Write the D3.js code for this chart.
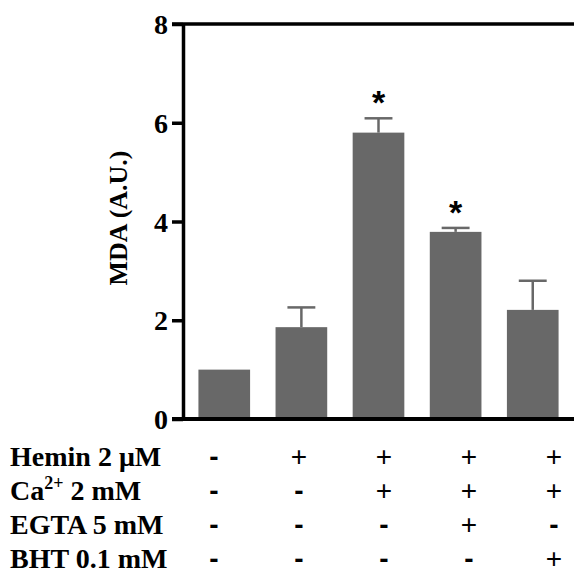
<!DOCTYPE html>
<html>
<head>
<meta charset="utf-8">
<script src="https://cdn.jsdelivr.net/npm/d3@7"></script>
<style>
  body { margin: 0; background: #fff; }
  text.tnr { font-family: "Liberation Serif", "Times New Roman", serif; font-weight: bold; }
</style>
</head>
<body>
<svg id="chart"></svg>
<script>
// bar data
const groups = ['g1', 'g2', 'g3', 'g4', 'g5'];
const means = [1.0, 1.86, 5.80, 3.79, 2.21];
const errors = [0, 0.40, 0.29, 0.08, 0.59];
const signif = [false, false, true, true, false];
const yTicks = [0, 2, 4, 6, 8];

// treatment table
const rowLabels = ['Hemin 2 \u03BCM', 'Ca2+ 2 mM', 'EGTA 5 mM', 'BHT 0.1 mM'];
const hemin = ['-', '+', '+', '+', '+'];
const calcium = ['-', '-', '+', '+', '+'];
const egta = ['-', '-', '-', '+', '-'];
const bht = ['-', '-', '-', '-', '+'];

const width = 574, height = 575;
const margin = {top: 24, right: 0, bottom: 155, left: 183};

const svg = d3.select('#chart').attr('width', width).attr('height', height);
const chart = svg.append('g').attr('transform', `translate(${margin.left}, ${margin.top})`);
const innerW = width - margin.left - margin.right;
const innerH = height - margin.top - margin.bottom - 1;

const xscale = d3.scaleBand()
    .domain(groups)
    .range([0, innerW])
    .paddingInner(0.33)
    .paddingOuter(0.2);

const yscale = d3.scaleLinear()
    .domain([0, 8])
    .range([innerH, 0]);

const barColor = '#686868';

// bars
chart.selectAll('rect.bar')
    .data(groups)
    .enter()
    .append('rect')
    .attr('class', 'bar')
    .attr('x', d => xscale(d))
    .attr('y', (d, i) => yscale(means[i]))
    .attr('width', xscale.bandwidth())
    .attr('height', (d, i) => innerH - yscale(means[i]))
    .style('fill', barColor);

// error bars (upper only)
const capHalf = xscale.bandwidth() * 0.27;
groups.forEach((g, i) => {
    if (errors[i] <= 0) return;
    const cx = xscale(g) + xscale.bandwidth() / 2;
    const top = yscale(means[i] + errors[i]);
    chart.append('line')
        .attr('x1', cx).attr('x2', cx)
        .attr('y1', yscale(means[i])).attr('y2', top)
        .attr('stroke', barColor).attr('stroke-width', 2.5);
    chart.append('line')
        .attr('x1', cx - capHalf).attr('x2', cx + capHalf)
        .attr('y1', top).attr('y2', top)
        .attr('stroke', barColor).attr('stroke-width', 2.5);
    if (signif[i]) {
        chart.append('text')
            .attr('x', cx)
            .attr('y', top - 4)
            .attr('text-anchor', 'middle')
            .style('font-family', '"Liberation Sans", Arial, sans-serif')
            .style('font-weight', 'bold')
            .style('font-size', '34px')
            .text('*');
    }
});

// axes
const yaxis = d3.axisLeft(yscale).tickValues(yTicks).tickSize(11).tickSizeOuter(0).tickPadding(4);
const yg = chart.append('g').call(yaxis);
yg.select('.domain').attr('stroke', '#000').attr('stroke-width', 3.5);
yg.selectAll('.tick line').attr('stroke', '#000').attr('stroke-width', 3.5);
yg.selectAll('.tick text')
    .attr('class', 'tnr')
    .style('font-size', '28px')
    .attr('dy', '0.34em');

// bottom axis line and top frame line
chart.append('line')
    .attr('x1', -11).attr('x2', innerW)
    .attr('y1', yscale(0)).attr('y2', yscale(0))
    .attr('stroke', '#000').attr('stroke-width', 4);
chart.append('line')
    .attr('x1', -11).attr('x2', innerW)
    .attr('y1', yscale(8)).attr('y2', yscale(8))
    .attr('stroke', '#000').attr('stroke-width', 3.5);

// y label
svg.append('text')
    .attr('class', 'tnr')
    .attr('transform', 'rotate(-90)')
    .attr('x', -218)
    .attr('y', 127)
    .attr('text-anchor', 'middle')
    .style('font-size', '26px')
    .text('MDA (A.U.)');

// treatment table
const rows = [hemin, calcium, egta, bht];
const colX = d3.scalePoint().domain(groups).range([214, 554]);
const rowY = d3.scalePoint().domain(d3.range(rows.length)).range([466, 568]);

rows.forEach((row, r) => {
    const label = svg.append('text')
        .attr('class', 'tnr')
        .attr('x', 10)
        .attr('y', rowY(r))
        .style('font-size', '28px');
    if (r === 1) {
        label.append('tspan').text('Ca');
        label.append('tspan').attr('dy', -11).style('font-size', '18px').text('2+');
        label.append('tspan').attr('dy', 11).text(' 2 mM');
    } else {
        label.text(rowLabels[r]);
    }
    svg.selectAll(null)
        .data(row)
        .enter()
        .append('text')
        .attr('x', (d, i) => colX(groups[i]))
        .attr('y', rowY(r))
        .attr('text-anchor', 'middle')
        .style('font-family', '"Liberation Sans", Arial, sans-serif')
        .style('font-weight', d => d === '-' ? 'bold' : 'normal')
        .style('font-size', '28px')
        .text(d => d);
});
</script>
</body>
</html>
